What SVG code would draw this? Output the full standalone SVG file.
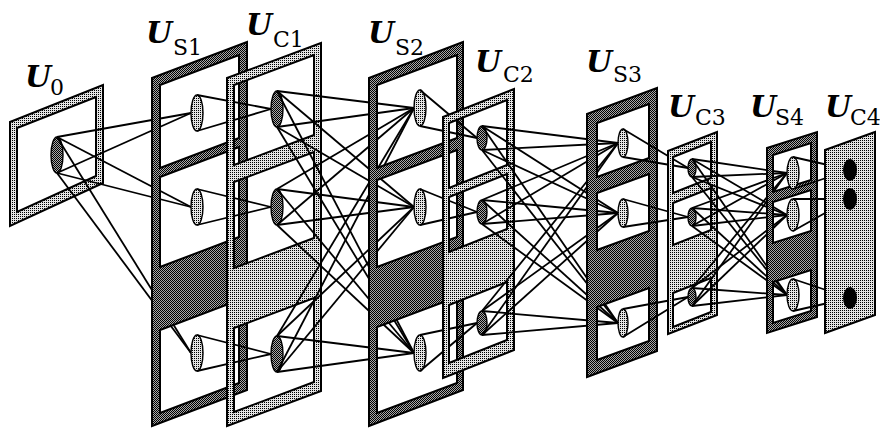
<svg xmlns="http://www.w3.org/2000/svg" width="880" height="428" viewBox="0 0 880 428">
<defs>
<pattern id="pl" width="2" height="2" patternUnits="userSpaceOnUse"><rect width="2" height="2" fill="#e4e4e4"/><rect width="1" height="1" fill="#000000"/></pattern>
<pattern id="pd" width="2" height="2" patternUnits="userSpaceOnUse"><rect width="2" height="2" fill="#a8a8a8"/><rect width="1" height="1" fill="#000000"/><rect x="1" y="1" width="1" height="1" fill="#000000"/></pattern>
</defs>
<style>
.frame{stroke:#000;stroke-width:2;fill-rule:evenodd;stroke-linejoin:miter}
.fs{fill:url(#pd)}
.fc{fill:url(#pl)}
.cs{fill:url(#pl);stroke:#000;stroke-width:1.4}
.cc{fill:url(#pd);stroke:#000;stroke-width:1.4}
.dot{fill:#000}
.conn line{stroke:#000;stroke-width:1.8;fill:none}
.lbl{font-family:'DejaVu Serif','Liberation Serif',serif;font-style:italic;font-weight:bold;font-size:30px;fill:#000}
.sub{font-style:normal;font-weight:normal;font-size:22px}
</style>
<rect width="880" height="428" fill="#fff"/>

<g id="U0">
<path class="frame fc" d="M10,122 L103,85 L103,183 L10,226 Z M17,128 L96,97 L96,176 L17,212 Z"/>
<ellipse class="cc" cx="57" cy="155" rx="6" ry="18"/>
<text class="lbl" x="25" y="87">U<tspan class="sub" x="50" y="95">0</tspan></text>
</g>

<g id="conn-U0-US1" class="conn">
<line x1="57" y1="137" x2="191" y2="113"/>
<line x1="57" y1="173" x2="191" y2="113"/>
<line x1="57" y1="137" x2="191" y2="207"/>
<line x1="57" y1="173" x2="191" y2="207"/>
<line x1="57" y1="137" x2="191" y2="353"/>
<line x1="57" y1="173" x2="191" y2="353"/>
</g>

<g id="US1">
<path class="frame fs" d="M152,78 L247,42 L247,390 L152,426 Z M160,85 L239,55 L239,138 L160,168 Z M160,177 L239,147 L239,237 L160,267 Z M160,330 L239,300 L239,383 L160,413 Z"/>
<ellipse class="cs" cx="197" cy="113" rx="6" ry="18"/>
<ellipse class="cs" cx="197" cy="207" rx="6" ry="18"/>
<ellipse class="cs" cx="197" cy="353" rx="6" ry="18"/>
<text class="lbl" x="146" y="43">U<tspan class="sub" x="173" y="55">S1</tspan></text>
</g>

<g id="conn-US1-UC1" class="conn">
<line x1="197" y1="95" x2="271" y2="109"/>
<line x1="197" y1="131" x2="271" y2="109"/>
<line x1="197" y1="189" x2="271" y2="207"/>
<line x1="197" y1="225" x2="271" y2="207"/>
<line x1="197" y1="335" x2="271" y2="354"/>
<line x1="197" y1="371" x2="271" y2="354"/>
</g>

<g id="UC1">
<path class="frame fc" d="M227,78 L321,43 L321,391 L227,426 Z M234,85 L314,55 L314,135 L234,165 Z M234,182 L314,152 L314,238 L234,268 Z M234,328 L314,298 L314,382 L234,412 Z"/>
<ellipse class="cc" cx="277" cy="109" rx="6" ry="18"/>
<ellipse class="cc" cx="277" cy="207" rx="6" ry="18"/>
<ellipse class="cc" cx="277" cy="354" rx="6" ry="18"/>
<text class="lbl" x="246" y="35">U<tspan class="sub" x="273" y="47">C1</tspan></text>
</g>

<g id="conn-UC1-US2" class="conn">
<line x1="277" y1="91" x2="414" y2="108"/>
<line x1="277" y1="91" x2="414" y2="207"/>
<line x1="277" y1="91" x2="414" y2="353"/>
<line x1="277" y1="127" x2="414" y2="108"/>
<line x1="277" y1="127" x2="414" y2="207"/>
<line x1="277" y1="127" x2="414" y2="353"/>
<line x1="277" y1="189" x2="414" y2="108"/>
<line x1="277" y1="189" x2="414" y2="207"/>
<line x1="277" y1="189" x2="414" y2="353"/>
<line x1="277" y1="225" x2="414" y2="108"/>
<line x1="277" y1="225" x2="414" y2="207"/>
<line x1="277" y1="225" x2="414" y2="353"/>
<line x1="277" y1="336" x2="414" y2="108"/>
<line x1="277" y1="336" x2="414" y2="207"/>
<line x1="277" y1="336" x2="414" y2="353"/>
<line x1="277" y1="372" x2="414" y2="108"/>
<line x1="277" y1="372" x2="414" y2="207"/>
<line x1="277" y1="372" x2="414" y2="353"/>
</g>

<g id="US2">
<path class="frame fs" d="M369,78 L463,42 L463,390 L369,426 Z M377,85 L457,55 L457,138 L377,168 Z M377,180 L457,150 L457,237 L377,267 Z M377,327 L457,297 L457,383 L377,413 Z"/>
<ellipse class="cs" cx="420" cy="108" rx="6" ry="18"/>
<ellipse class="cs" cx="420" cy="207" rx="6" ry="18"/>
<ellipse class="cs" cx="420" cy="353" rx="6" ry="18"/>
<text class="lbl" x="368" y="43">U<tspan class="sub" x="395" y="55">S2</tspan></text>
</g>

<g id="conn-US2-UC2" class="conn">
<line x1="420" y1="90" x2="477" y2="138"/>
<line x1="420" y1="126" x2="477" y2="138"/>
<line x1="420" y1="189" x2="477" y2="212"/>
<line x1="420" y1="225" x2="477" y2="212"/>
<line x1="420" y1="335" x2="477" y2="323"/>
<line x1="420" y1="371" x2="477" y2="323"/>
</g>

<g id="UC2">
<path class="frame fc" d="M443,117 L514,89 L514,350 L443,378 Z M449,123 L507,100 L507,165 L449,188 Z M449,197 L507,174 L507,229 L449,252 Z M449,305 L507,282 L507,340 L449,363 Z"/>
<ellipse class="cc" cx="482" cy="138" rx="5" ry="12"/>
<ellipse class="cc" cx="482" cy="212" rx="5" ry="12"/>
<ellipse class="cc" cx="482" cy="323" rx="5" ry="12"/>
<text class="lbl" x="475" y="72">U<tspan class="sub" x="503" y="82">C2</tspan></text>
</g>

<g id="conn-UC2-US3" class="conn">
<line x1="482" y1="126" x2="618" y2="143"/>
<line x1="482" y1="126" x2="618" y2="213"/>
<line x1="482" y1="126" x2="618" y2="323"/>
<line x1="482" y1="150" x2="618" y2="143"/>
<line x1="482" y1="150" x2="618" y2="213"/>
<line x1="482" y1="150" x2="618" y2="323"/>
<line x1="482" y1="200" x2="618" y2="143"/>
<line x1="482" y1="200" x2="618" y2="213"/>
<line x1="482" y1="200" x2="618" y2="323"/>
<line x1="482" y1="224" x2="618" y2="143"/>
<line x1="482" y1="224" x2="618" y2="213"/>
<line x1="482" y1="224" x2="618" y2="323"/>
<line x1="482" y1="311" x2="618" y2="143"/>
<line x1="482" y1="311" x2="618" y2="213"/>
<line x1="482" y1="311" x2="618" y2="323"/>
<line x1="482" y1="335" x2="618" y2="143"/>
<line x1="482" y1="335" x2="618" y2="213"/>
<line x1="482" y1="335" x2="618" y2="323"/>
</g>

<g id="US3">
<path class="frame fs" d="M587,114 L657,88 L657,351 L587,377 Z M597,123 L649,104 L649,158 L597,177 Z M597,193 L649,174 L649,231 L597,250 Z M597,307 L649,288 L649,341 L597,360 Z"/>
<ellipse class="cs" cx="623" cy="143" rx="5" ry="14"/>
<ellipse class="cs" cx="623" cy="213" rx="5" ry="14"/>
<ellipse class="cs" cx="623" cy="323" rx="5" ry="14"/>
<text class="lbl" x="586" y="72">U<tspan class="sub" x="613" y="82">S3</tspan></text>
</g>

<g id="conn-US3-UC3" class="conn">
<line x1="623" y1="129" x2="688" y2="168"/>
<line x1="623" y1="157" x2="688" y2="168"/>
<line x1="623" y1="199" x2="688" y2="217"/>
<line x1="623" y1="227" x2="688" y2="217"/>
<line x1="623" y1="309" x2="688" y2="297"/>
<line x1="623" y1="337" x2="688" y2="297"/>
</g>

<g id="UC3">
<path class="frame fc" d="M668,151 L717,132 L717,315 L668,334 Z M673,157 L711,142 L711,178 L673,193 Z M673,203 L711,188 L711,230 L673,245 Z M673,293 L711,278 L711,312 L673,327 Z"/>
<ellipse class="cc" cx="692" cy="168" rx="4" ry="9"/>
<ellipse class="cc" cx="692" cy="217" rx="4" ry="9"/>
<ellipse class="cc" cx="692" cy="297" rx="4" ry="9"/>
<text class="lbl" x="668" y="117">U<tspan class="sub" x="695" y="125">C3</tspan></text>
</g>

<g id="conn-UC3-US4" class="conn">
<line x1="692" y1="159" x2="787" y2="173"/>
<line x1="692" y1="159" x2="787" y2="215"/>
<line x1="692" y1="159" x2="787" y2="295"/>
<line x1="692" y1="177" x2="787" y2="173"/>
<line x1="692" y1="177" x2="787" y2="215"/>
<line x1="692" y1="177" x2="787" y2="295"/>
<line x1="692" y1="208" x2="787" y2="173"/>
<line x1="692" y1="208" x2="787" y2="215"/>
<line x1="692" y1="208" x2="787" y2="295"/>
<line x1="692" y1="226" x2="787" y2="173"/>
<line x1="692" y1="226" x2="787" y2="215"/>
<line x1="692" y1="226" x2="787" y2="295"/>
<line x1="692" y1="288" x2="787" y2="173"/>
<line x1="692" y1="288" x2="787" y2="215"/>
<line x1="692" y1="288" x2="787" y2="295"/>
<line x1="692" y1="306" x2="787" y2="173"/>
<line x1="692" y1="306" x2="787" y2="215"/>
<line x1="692" y1="306" x2="787" y2="295"/>
</g>

<g id="US4">
<path class="frame fs" d="M767,148 L817,132 L817,317 L767,333 Z M773,155 L811,143 L811,180 L773,192 Z M773,202 L811,190 L811,231 L773,243 Z M773,282 L811,270 L811,311 L773,323 Z"/>
<ellipse class="cs" cx="793" cy="173" rx="6" ry="16"/>
<ellipse class="cs" cx="793" cy="215" rx="6" ry="16"/>
<ellipse class="cs" cx="793" cy="295" rx="6" ry="16"/>
<text class="lbl" x="750" y="117">U<tspan class="sub" x="775" y="125">S4</tspan></text>
</g>

<g id="conn-US4-UC4" class="conn">
<line x1="793" y1="157" x2="850" y2="170"/>
<line x1="793" y1="189" x2="850" y2="170"/>
<line x1="793" y1="199" x2="850" y2="199"/>
<line x1="793" y1="231" x2="850" y2="199"/>
<line x1="793" y1="279" x2="850" y2="298"/>
<line x1="793" y1="311" x2="850" y2="298"/>
</g>

<g id="UC4">
<path class="frame fc" d="M825,150 L875,132 L875,315 L825,333 Z"/>
<ellipse class="dot" cx="850" cy="170" rx="7" ry="11"/>
<ellipse class="dot" cx="850" cy="199" rx="7" ry="11"/>
<ellipse class="dot" cx="850" cy="298" rx="7" ry="11"/>
<text class="lbl" x="825" y="117">U<tspan class="sub" x="850" y="125">C4</tspan></text>
</g>
</svg>
